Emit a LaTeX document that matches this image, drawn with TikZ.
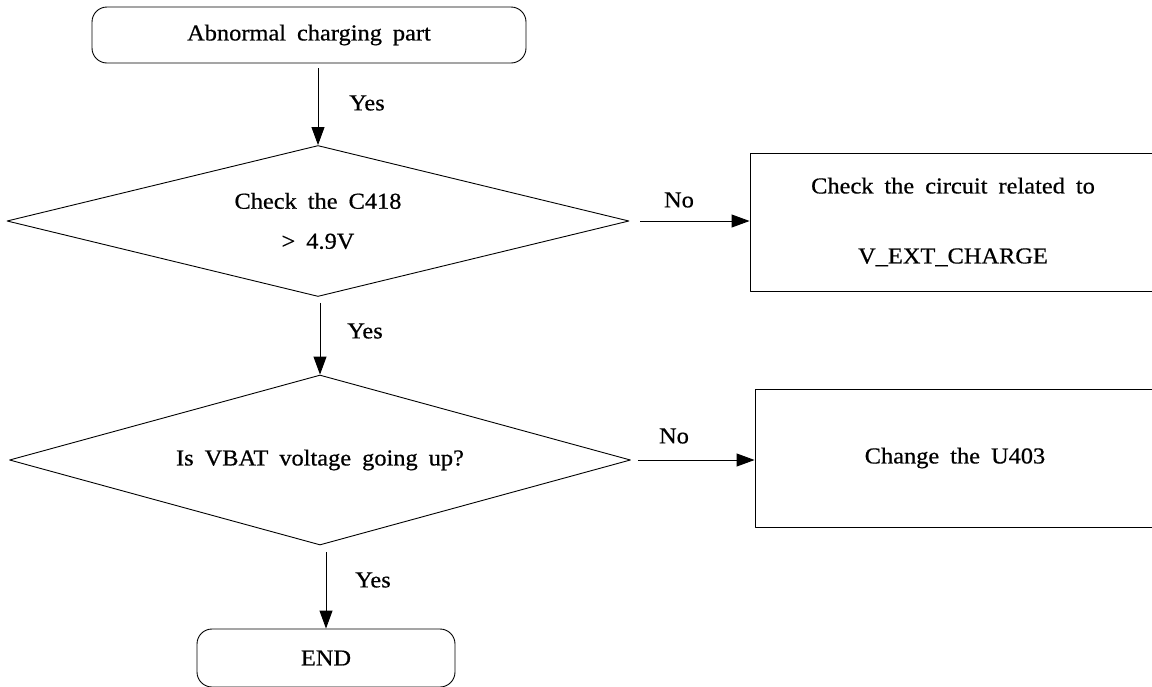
\documentclass[tikz,border=0pt]{standalone}
\usepackage{fontspec}
\setmainfont{Liberation Serif}[FakeStretch=1.07, FakeBold=0.6, WordSpace=1.8]
\usetikzlibrary{shapes.geometric, arrows.meta}
\definecolor{ink}{HTML}{000000}
\newcommand{\figfontsize}{\fontsize{22.8}{40}\selectfont}
\tikzset{
  every picture/.style = {font=\figfontsize, line join=round},
  hair/.style          = {line width=0.9pt, draw=ink},
  term/.style          = {hair, rectangle, rounded corners=15pt, inner sep=0pt},
  act/.style           = {hair, rectangle, inner sep=0pt, align=center},
  check/.style         = {hair, diamond, inner sep=0pt, align=center},
  link/.style          = {hair, -{Triangle[length=18pt, width=13pt]}},
}

\begin{document}
\begin{tikzpicture}[x=1pt, y=-1pt]   % one unit = one pixel, y running down
  \useasboundingbox (0,0) rectangle (1152,686);

  % ---------- left: the main column -------------------------------------------
  \node[term, minimum width=434pt, minimum height=56pt] (start) at (309,35) {Abnormal charging part};
  \node[check, aspect=4.1, minimum width=622pt, minimum height=151pt] (chk) at (318,221)
       {Check the C418\\ > 4.9V};
  \node[check, aspect=3.6, minimum width=621pt, minimum height=170pt] (vbat) at (320,460)
       {Is VBAT voltage going up?};
  \node[term, minimum width=258pt, minimum height=58pt] (fin) at (326,658) {END};

  \draw[link, shorten <=5pt] (chk.north |- start.south) -- (chk.north);
  \draw[link, shorten <=6pt] (vbat.north |- chk.south) -- (vbat.north);
  \draw[link, shorten <=7pt] (fin.north |- vbat.south) -- (fin.north);

  \node (yes1) at (367,103) {Yes};
  \node (yes2) at (365,331) {Yes};
  \node (yes3) at (373,580) {Yes};

  % ---------- right: what to do on a No ---------------------------------------
  \node[act, minimum width=406pt, minimum height=138pt] (ext) at (953,222)
       {Check the circuit related to\\[30pt] V\_EXT\_CHARGE};
  \node[act, minimum width=400pt, minimum height=138pt] (chg) at (955,458)
       {Change the U403};

  \draw[link, shorten <=11pt] (chk.east) -- (chk.east -| ext.west);
  \draw[link, shorten <=7pt]  (vbat.east) -- (vbat.east -| chg.west);

  \node (no1) at (679,200) {No};
  \node (no2) at (674,436) {No};
\end{tikzpicture}
\end{document}
